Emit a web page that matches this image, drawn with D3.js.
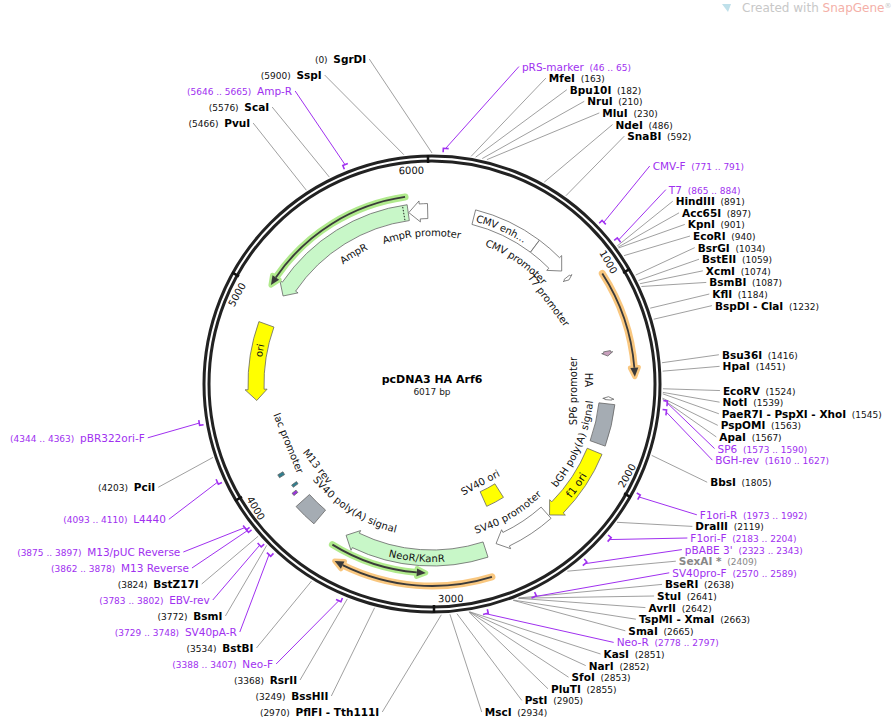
<!DOCTYPE html>
<html><head><meta charset="utf-8">
<script src="https://cdn.jsdelivr.net/npm/d3@7"></script>
<style>body{margin:0;background:#fff}text{font-family:"DejaVu Sans",sans-serif}</style>
</head><body><svg id="c" width="892" height="719"></svg>
<script>
const plasmidName = "pcDNA3 HA Arf6";
const totalBp = 6017;
const tickValues = [1000, 2000, 3000, 4000, 5000, 6000];
const enzymes = [
 ["SgrDI",0],["MfeI",163],["Bpu10I",182],["NruI",210],["MluI",230],["NdeI",486],["SnaBI",592],
 ["HindIII",891],["Acc65I",897],["KpnI",901],["EcoRI",940],["BsrGI",1034],["BstEII",1059],["XcmI",1074],
 ["BsmBI",1087],["KflI",1184],["BspDI  - ClaI",1232],["Bsu36I",1416],["HpaI",1451],["EcoRV",1524],["NotI",1539],
 ["PaeR7I  - PspXI  - XhoI",1545],["PspOMI",1563],["ApaI",1567],["BbsI",1805],["DraIII",2119],["SexAI *",2409],
 ["BseRI",2638],["StuI",2641],["AvrII",2642],["TspMI  - XmaI",2663],["SmaI",2665],["KasI",2851],["NarI",2852],
 ["SfoI",2853],["PluTI",2855],["PstI",2905],["MscI",2934],["PflFI  - Tth111I",2970],["BssHII",3249],["RsrII",3368],
 ["BstBI",3534],["BsmI",3772],["BstZ17I",3824],["PciI",4203],["PvuI",5466],["ScaI",5576],["SspI",5900]
];
const primers = [
 ["pRS-marker",46,65],["CMV-F",771,791],["T7",865,884],["SP6",1573,1590],["BGH-rev",1610,1627],
 ["F1ori-R",1973,1992],["F1ori-F",2183,2204],["pBABE 3'",2323,2343],["SV40pro-F",2570,2589],["Neo-R",2778,2797],
 ["Neo-F",3388,3407],["SV40pA-R",3729,3748],["EBV-rev",3783,3802],["M13 Reverse",3862,3878],
 ["M13/pUC Reverse",3875,3897],["L4440",4093,4110],["pBR322ori-F",4344,4363],["Amp-R",5646,5665]
];
// features: name, start, end, direction
const features = [
 ["CMV enhancer",235,614,"none"],["CMV promoter",615,818,"cw"],["T7 promoter",863,882,"cw"],
 ["HA",1327,1353,"cw"],["SP6 promoter",1573,1590,"ccw"],["bGH poly(A) signal",1612,1834,"none"],
 ["f1 ori",1880,2308,"cw"],["SV40 promoter",2314,2643,"cw"],["SV40 ori",2470,2606,"none"],
 ["NeoR/KanR",2709,3503,"cw"],["SV40 poly(A) signal",3680,3810,"none"],["M13 rev",3862,3878,"none"],
 ["lac promoter",3985,4003,"none"],["CAP site",3900,3915,"none"],
 ["ori",4423,4844,"ccw"],["AmpR",5024,5885,"ccw"],["AmpR promoter",5888,5993,"ccw"]
];
// ORF indicator lines: name, start, end, direction
const orfs = [["Arf6",953,1470,"cw"],["NeoR orf",2720,3490,"cw"],["NeoR orf2",3040,3540,"ccw"],["AmpR orf",5040,5880,"ccw"]];

// ---- styles (kept separate) ----
const featStyle = {
 "CMV enhancer":{r:172,w:15,fill:"#fff"},"CMV promoter":{r:172,w:15,fill:"#fff"},"T7 promoter":{r:172,w:7,fill:"#fff"},
 "HA":{r:178,w:7,fill:"#c9a0bd"},"SP6 promoter":{r:177,w:7,fill:"#fff"},"bGH poly(A) signal":{r:176,w:16,fill:"#a5acb3"},
 "f1 ori":{r:176,w:16,fill:"#ffff00"},"SV40 promoter":{r:172,w:15,fill:"#fff"},"SV40 ori":{r:126,w:16,fill:"#ffff00"},
 "NeoR/KanR":{r:174,w:16,fill:"#c8f7c8"},"SV40 poly(A) signal":{r:174,w:18,fill:"#a5acb3"},
 "M13 rev":{r:175,w:5,fill:"#9933dd"},"lac promoter":{r:176,w:6,fill:"#2f7f8f"},"CAP site":{r:170,w:6,fill:"#2f7f8f"},
 "ori":{r:176,w:16,fill:"#ffff00"},"AmpR":{r:173,w:16,fill:"#c8f7c8"},"AmpR promoter":{r:173,w:15,fill:"#fff"}
};
const orfStyle = {"Arf6":{r:203,c:"#f9c77f"},"NeoR orf":{r:202,c:"#f9c77f"},"NeoR orf2":{r:189,c:"#b0ea8c"},"AmpR orf":{r:189,c:"#b0ea8c"}};

const svg = d3.select("#c");
const cx = 432, cy = 384, R = 228;
const angle = d3.scaleLinear().domain([0, totalBp]).range([0, 360]);
const rad = a => a * Math.PI / 180;
const pt = (a, r) => [cx + r * Math.sin(rad(a)), cy - r * Math.cos(rad(a))];
const P = p => p[0].toFixed(2) + "," + p[1].toFixed(2);

// watermark
const wm = svg.append("text").attr("x", 742).attr("y", 12).attr("font-size", 12).attr("fill", "#c8c8c8");
wm.append("tspan").text("Created with ");
wm.append("tspan").attr("fill", "#f4b0a8").text("SnapGene");
wm.append("tspan").attr("font-size", 7).attr("dy", -4).text("®");
svg.append("path").attr("d", "M722,4 L728,12 L731,4 Z").attr("fill", "#bfe0ea");

// ring
svg.append("circle").attr("cx", cx).attr("cy", cy).attr("r", R).attr("fill", "none").attr("stroke", "#222").attr("stroke-width", 3);
svg.append("circle").attr("cx", cx).attr("cy", cy).attr("r", R - 5).attr("fill", "none").attr("stroke", "#222").attr("stroke-width", 3);
tickValues.forEach(v => {
  const a = angle(v);
  const p1 = pt(a, R - 7), p2 = pt(a, R + 1);
  svg.append("line").attr("x1", p1[0]).attr("y1", p1[1]).attr("x2", p2[0]).attr("y2", p2[1]).attr("stroke", "#111").attr("stroke-width", 2.5);
  const rot = a - 180 * Math.round(a / 180);
  const lp = pt(a - 4.5, R - 13);
  svg.append("text").attr("transform", `translate(${lp[0]},${lp[1]}) rotate(${rot})`).attr("text-anchor", "middle")
    .attr("dy", 4).attr("font-size", 10).attr("fill", "#111").text(v);
});

// features
function featPath(a1, a2, r, w, dir) {
  const ro = r + w / 2, ri = r - w / 2, span = a2 - a1;
  const hl = Math.min(11, span * rad(1) * r * 0.7);
  const hd = hl / r * 180 / Math.PI, fl = Math.min(3, w * 0.3);
  if (dir === "cw") {
    const b = a2 - hd;
    return `M${P(pt(a1, ro))}A${ro},${ro} 0 0 1 ${P(pt(b, ro))}L${P(pt(b, ro + fl))}L${P(pt(a2, r))}L${P(pt(b, ri - fl))}L${P(pt(b, ri))}A${ri},${ri} 0 0 0 ${P(pt(a1, ri))}Z`;
  } else if (dir === "ccw") {
    const b = a1 + hd;
    return `M${P(pt(a2, ro))}A${ro},${ro} 0 0 0 ${P(pt(b, ro))}L${P(pt(b, ro + fl))}L${P(pt(a1, r))}L${P(pt(b, ri - fl))}L${P(pt(b, ri))}A${ri},${ri} 0 0 1 ${P(pt(a2, ri))}Z`;
  }
  return `M${P(pt(a1, ro))}A${ro},${ro} 0 0 1 ${P(pt(a2, ro))}L${P(pt(a2, ri))}A${ri},${ri} 0 0 0 ${P(pt(a1, ri))}Z`;
}
features.forEach(f => {
  const s = featStyle[f[0]];
  svg.append("path").attr("d", featPath(angle(f[1]), angle(f[2]), s.r, s.w, f[3]))
    .attr("fill", s.fill).attr("stroke", "#666").attr("stroke-width", 0.8);
});
{ const a = angle(5860), p1 = pt(a, 166), p2 = pt(a, 180);
  svg.append("line").attr("x1", p1[0]).attr("y1", p1[1]).attr("x2", p2[0]).attr("y2", p2[1]).attr("stroke", "#222").attr("stroke-dasharray", "1.5,1.5"); }

// orf lines
orfs.forEach(o => {
  const s = orfStyle[o[0]], a1 = angle(o[1]), a2 = angle(o[2]);
  const hd = 9 / s.r * 180 / Math.PI;
  const b1 = o[3] === "ccw" ? a1 + hd : a1, b2 = o[3] === "cw" ? a2 - hd : a2;
  const d = `M${P(pt(b1, s.r))}A${s.r},${s.r} 0 0 1 ${P(pt(b2, s.r))}`;
  const tip = o[3] === "cw" ? a2 : a1, base = o[3] === "cw" ? b2 : b1;
  const head = `M${P(pt(tip, s.r))}L${P(pt(base, s.r + 4))}L${P(pt(base, s.r - 4))}Z`;
  svg.append("path").attr("d", d).attr("fill", "none").attr("stroke", s.c).attr("stroke-width", 7).attr("stroke-linecap", "round");
  svg.append("path").attr("d", head).attr("fill", s.c).attr("stroke", s.c).attr("stroke-width", 5).attr("stroke-linejoin", "round");
  svg.append("path").attr("d", d).attr("fill", "none").attr("stroke", "#3a3a3a").attr("stroke-width", 1.8);
  svg.append("path").attr("d", head).attr("fill", "#3a3a3a");
});

// curved labels
const defs = svg.append("defs");
function arcLabel(id, txt, aMid, r, dir, size, halfSpan) {
  const h = halfSpan || 40;
  const a1 = dir === "cw" ? aMid - h : aMid + h, a2 = dir === "cw" ? aMid + h : aMid - h;
  defs.append("path").attr("id", id).attr("d", `M${P(pt(a1, r))}A${r},${r} 0 0 ${dir === "cw" ? 1 : 0} ${P(pt(a2, r))}`);
  svg.append("text").attr("font-size", size || 10).attr("fill", "#111").attr("dy", 4)
    .append("textPath").attr("href", "#" + id).attr("startOffset", "50%").attr("text-anchor", "middle").text(txt);
}
arcLabel("l1", "AmpR promoter", -4, 152, "cw");
arcLabel("l2", "AmpR", -31, 153, "cw");
arcLabel("l3", "CMV enh...", 24, 172, "cw");
arcLabel("l4", "CMV promoter", 34.5, 152, "cw");
arcLabel("l5", "bGH poly(A) signal", 113, 158, "ccw");
arcLabel("l6", "f1 ori", 125, 176, "ccw", 10.5);
arcLabel("l7", "SV40 promoter", 149.5, 152, "ccw");
arcLabel("l8", "NeoR/KanR", 185, 174, "ccw");
arcLabel("l9", "SV40 poly(A) signal", 212.5, 149, "ccw");
arcLabel("l10", "ori", 281, 176, "cw", 10);
function rotLabel(txt, x, y, rot, size) {
  svg.append("text").attr("transform", `translate(${x},${y}) rotate(${rot})`).attr("text-anchor", "middle").attr("dy", 4)
    .attr("font-size", size || 10).attr("fill", "#111").text(txt);
}
rotLabel("T7 promoter", 549, 300, 53);
rotLabel("SP6 promoter", 573, 391, -90);
rotLabel("HA", 589, 380, 90);
rotLabel("SV40 ori", 480, 482, -28);
rotLabel("M13 rev", 318, 466, 52);
rotLabel("lac promoter", 289, 443, 68);

// center title
svg.append("text").attr("x", cx).attr("y", 383).attr("text-anchor", "middle").attr("font-size", 11).attr("font-weight", "bold").text(plasmidName);
svg.append("text").attr("x", cx).attr("y", 395).attr("text-anchor", "middle").attr("font-size", 9).attr("fill", "#222").text(totalBp + " bp");

// site labels
const items = enzymes.map(e => ({name: e[0], pos: e[1], kind: e[0].includes("*") ? "grey" : "enz"}))
  .concat(primers.map(p => ({name: p[0], pos: p[1], end: p[2], kind: "primer"})));
items.forEach(d => {
  const mid = d.kind === "primer" ? (d.pos + d.end) / 2 : d.pos;
  d.a = angle(mid);
  d.left = d.pos >= 2950 || d.pos === 0;
  d.aa = d.pos === 0 ? 360 : d.a;
  d.ideal = cy - (d.left ? 325 : 318) * Math.cos(rad(d.aa));
});
function layout(arr, sp) {
  arr[0].y = arr[0].ideal;
  for (let i = 1; i < arr.length; i++) arr[i].y = Math.max(arr[i].ideal, arr[i - 1].y + sp);
  arr[arr.length - 1].y = Math.min(arr[arr.length - 1].y, 712);
  for (let i = arr.length - 2; i >= 0; i--) arr[i].y = Math.min(arr[i].y, arr[i + 1].y - sp);
}
const right = items.filter(d => !d.left).sort((a, b) => a.pos - b.pos);
const left = items.filter(d => d.left).sort((a, b) => b.aa - a.aa);
layout(right, 11.6);
layout(left, 16);
const ex = y => 288 * Math.sqrt(Math.max(0, 1 - ((y - cy) / 333) ** 2));
right.forEach(d => d.x = cx + ex(d.y) + 3);
left.forEach(d => d.x = cx - ex(d.y) - 3);
const purple = "#a030f0";
items.forEach(d => {
  const isP = d.kind === "primer";
  const r0 = isP ? 236 : 231;
  const p0 = pt(d.a, r0);
  const lx = d.left ? d.x + 3 : d.x - 3;
  svg.append("line").attr("x1", p0[0]).attr("y1", p0[1]).attr("x2", lx).attr("y2", d.y)
    .attr("stroke", isP ? purple : "#888").attr("stroke-width", isP ? 1 : 0.8);
  if (isP) {
    const a1 = angle(d.pos), a2 = Math.max(angle(d.end), a1 + 1.3);
    svg.append("path").attr("d", `M${P(pt(a1, 232))}L${P(pt(a1, 236))}A236,236 0 0 1 ${P(pt(a2, 236))}`)
      .attr("fill", "none").attr("stroke", purple).attr("stroke-width", 1.6);
  }
  const t = svg.append("text").attr("x", d.x).attr("y", d.y + 4).attr("text-anchor", d.left ? "end" : "start");
  const nameSpan = () => t.append("tspan").attr("font-size", 10.5)
    .attr("font-weight", isP ? "normal" : "bold").attr("fill", isP ? purple : (d.kind === "grey" ? "#888" : "#000")).text(d.name);
  const posTxt = isP ? `(${d.pos} .. ${d.end})` : `(${d.pos})`;
  const posSpan = () => t.append("tspan").attr("font-size", 9).attr("fill", isP ? purple : (d.kind === "grey" ? "#888" : "#111")).text(posTxt);
  if (d.left) { posSpan(); t.append("tspan").attr("font-size", 9).text("\u00a0\u00a0"); nameSpan(); }
  else { nameSpan(); t.append("tspan").attr("font-size", 9).text("\u00a0\u00a0"); posSpan(); }
});
</script></body></html>
